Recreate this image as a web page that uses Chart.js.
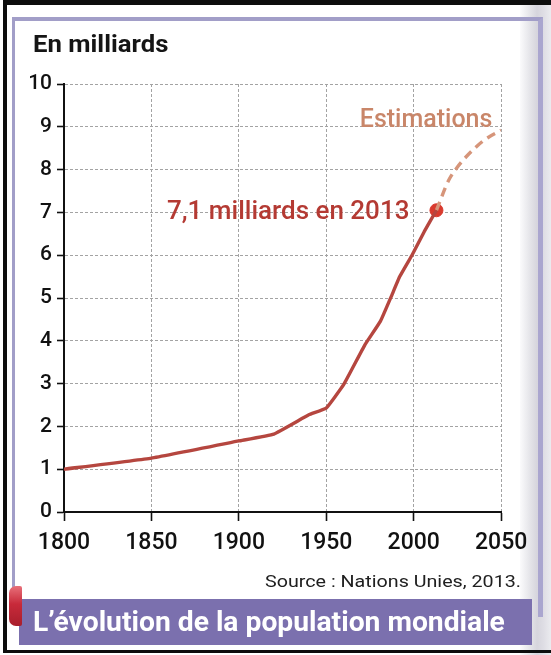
<!DOCTYPE html>
<html lang="fr">
<head>
<meta charset="utf-8">
<title>L’évolution de la population mondiale</title>
<script src="https://cdn.jsdelivr.net/npm/chart.js@4.4.1/dist/chart.umd.min.js"></script>
<style>
    html, body { margin: 0; padding: 0; background: #fff; }
    #page { position: relative; width: 551px; height: 655px; overflow: hidden; background: #fff; font-family: Roboto, 'Noto Sans', sans-serif; }
    #page canvas { position: absolute; left: 0; top: 0; }
    .shade { position: absolute; left: 520px; top: 0; width: 31px; height: 655px;
        background: linear-gradient(to right, #fbfbfc 0%, #e6e6ea 30%, #d6d5dd 55%, #dedde4 75%, #ebebef 100%); }
    .inner { position: absolute; left: 12px; top: 17px; width: 531px; height: 600px; box-sizing: border-box;
        border-top: 4px solid #a29ec8; border-left: 3px solid #a29ec8; border-right: 5px solid #aaa6cf; }
    .frame { position: absolute; left: 3px; top: 0; width: 560px; height: 653px; box-sizing: border-box;
        border-top: 5px solid #0d0d0d; border-left: 4px solid #0d0d0d; border-bottom: 3px solid #0d0d0d; }
    #unit { position: absolute; left: 33px; top: 30px; font-size: 24px; font-weight: bold; color: #151515; white-space: nowrap; transform-origin: left top; }
    #source { position: absolute; left: 265px; top: 571px; font-size: 17px; color: #202020; white-space: nowrap; transform-origin: left top; }
    #banner { position: absolute; left: 19px; top: 599px; width: 513px; height: 46px; background: #7b70ae; }
    #banner span { position: absolute; left: 14px; top: 6px; font-size: 28px; font-weight: bold; color: #fff; white-space: nowrap; transform-origin: left top; }
    #tab { position: absolute; left: 9px; top: 586px; width: 13px; height: 40px; border-radius: 7px 2px 2px 7px;
        background: linear-gradient(to bottom, #e8707a 0%, #c82a3a 45%, #a81e2c 100%); }
</style>
</head>
<body>
<div id="page">
    <div class="shade"></div>
    <div class="inner"></div>
    <canvas id="populationChart" width="551" height="655"></canvas>
    <div class="frame"></div>
    <div id="unit">En milliards</div>
    <div id="source">Source : Nations Unies, 2013.</div>
    <div id="banner"><span>L’évolution de la population mondiale</span></div>
    <div id="tab"></div>
</div>
<script>
// population mondiale, en milliards
const years = [1800, 1850, 1900, 1920, 1940, 1950, 1960, 1972, 1981, 1987, 1992, 1999, 2006, 2013];
const population = [1.0, 1.26, 1.66, 1.82, 2.27, 2.43, 2.98, 3.9, 4.46, 5.02, 5.5, 6.0, 6.55, 7.05];

// estimations (pointillés)
const estYears = [2013, 2020, 2025, 2030, 2040, 2050];
const estPopulation = [7.05, 7.75, 8.06, 8.3, 8.68, 8.92];

const highlightYear = 2013;
const highlightValue = 7.05;

const xTicks = [1800, 1850, 1900, 1950, 2000, 2050];
const yTicks = [0, 1, 2, 3, 4, 5, 6, 7, 8, 9, 10];

const highlightLabel = '7,1 milliards en 2013';
const estimateLabel = 'Estimations';

document.addEventListener('DOMContentLoaded', function () {
    function fitWidth(el, w) {
        el.style.display = 'inline-block';
        el.style.transform = 'scaleX(' + (w / el.offsetWidth) + ')';
    }
    fitWidth(document.getElementById('unit'), 135);
    fitWidth(document.getElementById('source'), 256);
    fitWidth(document.querySelector('#banner span'), 472);

    const pad = { top: 72, right: 30, bottom: 104, left: 0 };
    const target = { left: 64, top: 84, right: 497, bottom: 512 };

    const labelsPlugin = {
        id: 'labels',
        afterDatasetsDraw(chart) {
            const { ctx, scales: { x, y } } = chart;
            ctx.save();
            ctx.font = '500 25px Roboto';
            ctx.textBaseline = 'middle';
            ctx.textAlign = 'right';
            ctx.fillStyle = '#c98669';
            ctx.fillText(estimateLabel, x.getPixelForValue(2045), y.getPixelForValue(9.13));
            ctx.font = '500 26px Roboto';
            ctx.fillStyle = '#b43a33';
            ctx.fillText(highlightLabel, x.getPixelForValue(highlightYear) - 27, y.getPixelForValue(highlightValue) + 2);
            ctx.restore();
        }
    };

    const tickFont = { family: 'Roboto', weight: '500' };

    const chart = new Chart(document.getElementById('populationChart'), {
        type: 'line',
        data: {
            datasets: [{
                data: years.map((yr, i) => ({ x: yr, y: population[i] })),
                borderColor: '#b5463f',
                borderWidth: 3.4,
                pointRadius: 0,
                borderJoinStyle: 'round',
                tension: 0.1
            }, {
                data: estYears.map((yr, i) => ({ x: yr, y: estPopulation[i] })),
                borderColor: '#d6957a',
                borderWidth: 3.4,
                borderDash: [9, 6],
                pointRadius: 0,
                cubicInterpolationMode: 'monotone'
            }, {
                data: [{ x: highlightYear, y: highlightValue }],
                pointRadius: 6.5,
                pointBackgroundColor: '#d93a2e',
                pointBorderColor: '#d93a2e',
                showLine: false
            }]
        },
        options: {
            responsive: false,
            animation: false,
            layout: { padding: pad },
            plugins: { legend: { display: false }, tooltip: { enabled: false } },
            scales: {
                x: {
                    type: 'linear',
                    min: 1800,
                    max: 2050,
                    afterBuildTicks: s => { s.ticks = xTicks.map(v => ({ value: v })); },
                    afterFit: s => { s.height = 40; },
                    ticks: { color: '#111', padding: 8, maxRotation: 0, font: { ...tickFont, size: 23 }, callback: v => String(v) },
                    grid: { color: '#a3a3a3', lineWidth: 1, tickColor: '#111', tickLength: 9, tickWidth: 1.6 },
                    border: { color: '#111', width: 2, dash: [3, 2] }
                },
                y: {
                    min: 0,
                    max: 10,
                    afterBuildTicks: s => { s.ticks = yTicks.map(v => ({ value: v })); },
                    afterFit: s => { s.width = 64; },
                    ticks: { color: '#111', padding: 5, font: { ...tickFont, size: 21 }, callback: v => String(v) },
                    grid: { color: '#a3a3a3', lineWidth: 1, tickColor: '#111', tickLength: 7, tickWidth: 1.6 },
                    border: { color: '#111', width: 2, dash: [3, 2] }
                }
            }
        },
        plugins: [labelsPlugin]
    });

    // recale la zone du graphique
    const ca = chart.chartArea;
    pad.left += target.left - ca.left;
    pad.top += target.top - ca.top;
    pad.right += ca.right - target.right;
    pad.bottom += ca.bottom - target.bottom;
    chart.update('none');
});
</script>
</body>
</html>
